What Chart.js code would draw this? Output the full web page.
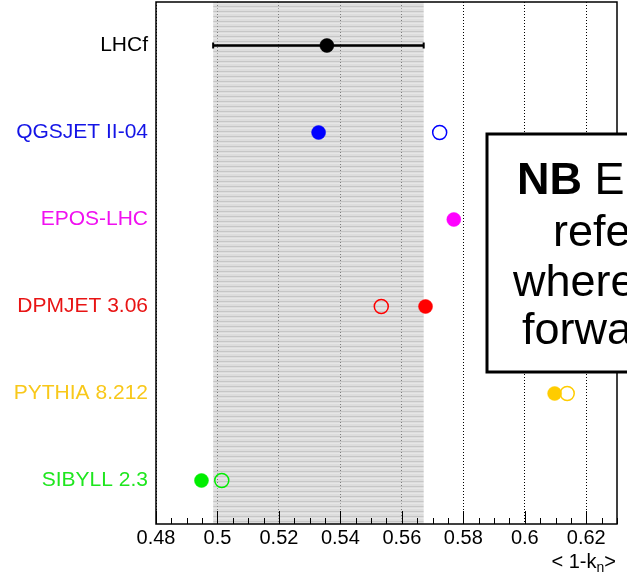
<!DOCTYPE html>
<html><head><meta charset="utf-8">
<script src="https://cdn.jsdelivr.net/npm/chart.js@4/dist/chart.umd.min.js"></script>
<style>html,body{margin:0;padding:0;background:#fff}#wrap{width:627px;height:574px;position:relative}</style>
</head><body><div id="wrap"><canvas id="c" width="627" height="574"></canvas></div>
<script>
// ---- data (top row first) ----
const models = ['LHCf', 'QGSJET II-04', 'EPOS-LHC', 'DPMJET 3.06', 'PYTHIA 8.212', 'SIBYLL 2.3'];
const markerColors = ['#000000', '#0000ff', '#ff00ff', '#ff0000', '#ffcc00', '#00ee00'];
const labelColors = ['#000000', '#1414e6', '#f010f0', '#e81414', '#f8c81a', '#1ee61e'];
const filledValues = [0.5356, 0.5329, 0.5769, 0.5677, 0.6097, 0.4948];
const openValues = [null, 0.5723, null, 0.5533, 0.6138, 0.5014];
const lhcfErrLow = 0.4986;
const lhcfErrHigh = 0.5671;
const xTickValues = [0.48, 0.50, 0.52, 0.54, 0.56, 0.58, 0.60, 0.62];
const xMinorStep = 0.005;
const xTitle = ['< 1-k', 'n', '>'];
const noteBold = 'NB';
const noteLines = [' E', 'refe', 'where', 'forwa'];

const FONT = '"Liberation Sans", Arial, Helvetica, sans-serif';
const nRows = models.length;
const rowY = i => nRows - 1 - i;

const filledData = models.map((m, i) => ({x: filledValues[i], y: rowY(i)}));
const openData = [], openColors = [];
models.forEach((m, i) => { if (openValues[i] !== null) { openData.push({x: openValues[i], y: rowY(i)}); openColors.push(markerColors[i]); } });

function makeBandPattern(ctx) {
  const pc = document.createElement('canvas');
  pc.width = 6; pc.height = 5;
  const p = pc.getContext('2d');
  p.fillStyle = 'rgba(200,200,200,0.62)'; p.fillRect(0, 0, 6, 5);
  p.fillStyle = 'rgba(170,170,170,0.45)'; p.fillRect(0, 1, 6, 1);
  p.fillStyle = 'rgba(255,255,255,0.25)'; p.fillRect(0, 3, 6, 1);
  return ctx.createPattern(pc, 'repeat');
}

const bandPlugin = {
  id: 'band',
  beforeDatasetsDraw(chart) {
    const {ctx, chartArea: a, scales: {x, y}} = chart;
    const x0 = x.getPixelForValue(lhcfErrLow), x1 = x.getPixelForValue(lhcfErrHigh);
    ctx.save();
    ctx.fillStyle = makeBandPattern(ctx);
    ctx.fillRect(x0, a.top, x1 - x0, a.bottom - a.top);
    // error bar for LHCf
    const yy = y.getPixelForValue(rowY(0));
    ctx.strokeStyle = '#000'; ctx.lineWidth = 2.5;
    ctx.beginPath(); ctx.moveTo(x0, yy); ctx.lineTo(x1, yy); ctx.stroke();
    ctx.lineWidth = 2;
    ctx.beginPath(); ctx.moveTo(x0, yy - 3); ctx.lineTo(x0, yy + 3); ctx.moveTo(x1, yy - 3); ctx.lineTo(x1, yy + 3); ctx.stroke();
    ctx.restore();
  }
};

const framePlugin = {
  id: 'frame',
  afterDatasetsDraw(chart) {
    const {ctx, chartArea: a, scales: {x}} = chart;
    ctx.save();
    ctx.strokeStyle = '#000'; ctx.lineWidth = 1;
    ctx.beginPath();
    const n = Math.round((x.max - x.min) / xMinorStep);
    for (let k = 0; k <= n; k++) {
      const v = x.min + k * xMinorStep;
      const major = Math.abs(v / 0.02 - Math.round(v / 0.02)) < 1e-6;
      const px = Math.round(x.getPixelForValue(v)) + 0.5;
      ctx.moveTo(px, a.bottom); ctx.lineTo(px, a.bottom - (major ? 13 : 6));
    }
    ctx.stroke();
    ctx.lineWidth = 1.5;
    ctx.strokeRect(a.left, a.top, a.right - a.left, a.bottom - a.top);
    ctx.restore();
  },
  afterDraw(chart) {
    const {ctx} = chart;
    ctx.save();
    // axis title
    ctx.fillStyle = '#000';
    ctx.textBaseline = 'alphabetic';
    const big = '20px ' + FONT, small = '14px ' + FONT;
    ctx.font = big; const w0 = ctx.measureText(xTitle[0]).width, w2 = ctx.measureText(xTitle[2]).width;
    ctx.font = small; const w1 = ctx.measureText(xTitle[1]).width;
    let sx = 616 - (w0 + w1 + w2), by = 568;
    ctx.font = big; ctx.fillText(xTitle[0], sx, by); sx += w0;
    ctx.font = small; ctx.fillText(xTitle[1], sx, by + 4); sx += w1;
    ctx.font = big; ctx.fillText(xTitle[2], sx, by);
    // note box
    ctx.fillStyle = '#fff';
    ctx.fillRect(487, 134, 400, 238);
    ctx.strokeStyle = '#000'; ctx.lineWidth = 3;
    ctx.strokeRect(487, 134, 400, 238);
    ctx.fillStyle = '#000';
    ctx.font = 'bold 45px ' + FONT;
    ctx.fillText(noteBold, 517, 194);
    const wb = ctx.measureText(noteBold).width;
    ctx.font = '45px ' + FONT;
    ctx.fillText(noteLines[0], 517 + wb, 194);
    ctx.fillText(noteLines[1], 553, 246);
    ctx.fillText(noteLines[2], 513, 296);
    ctx.fillText(noteLines[3], 522, 344);
    ctx.restore();
  }
};

new Chart(document.getElementById('c'), {
  type: 'scatter',
  data: {
    datasets: [
      {data: openData, pointStyle: 'circle', pointRadius: 7, pointBorderWidth: 1.5,
       pointBackgroundColor: 'rgba(0,0,0,0)', pointBorderColor: openColors, showLine: false},
      {data: filledData, pointStyle: 'circle', pointRadius: 7, pointBorderWidth: 0.5,
       pointBackgroundColor: markerColors, pointBorderColor: markerColors, showLine: false}
    ]
  },
  options: {
    responsive: false, animation: false, devicePixelRatio: 1,
    layout: {autoPadding: false, padding: {top: 2, right: 10, left: 0, bottom: 0}},
    plugins: {legend: {display: false}, tooltip: {enabled: false}},
    scales: {
      x: {
        type: 'linear', min: 0.48, max: 0.63,
        afterBuildTicks: s => { s.ticks = xTickValues.map(v => ({value: v})); },
        afterFit: s => { s.height = 50; s.paddingLeft = 0; s.paddingRight = 0; s.paddingTop = 0; s.paddingBottom = 0; },
        ticks: {callback: v => String(+Number(v).toFixed(2)), font: {size: 20, family: FONT}, color: '#000', padding: 2, maxRotation: 0, autoSkip: false},
        grid: {color: '#000', lineWidth: 1, drawTicks: false},
        border: {display: false, dash: [1, 2]}
      },
      y: {
        type: 'linear', min: -0.5, max: nRows - 0.5,
        afterBuildTicks: s => { s.ticks = models.map((m, i) => ({value: rowY(i)})); },
        afterFit: s => { s.width = 156; s.paddingTop = 0; s.paddingBottom = 0; s.paddingLeft = 0; s.paddingRight = 0; },
        ticks: {callback: v => models[nRows - 1 - v], color: c => labelColors[nRows - 1 - c.tick.value], font: {size: 21, family: FONT}, padding: 8, autoSkip: false},
        grid: {display: false, drawTicks: false},
        border: {display: false}
      }
    }
  },
  plugins: [bandPlugin, framePlugin]
});
</script></body></html>
